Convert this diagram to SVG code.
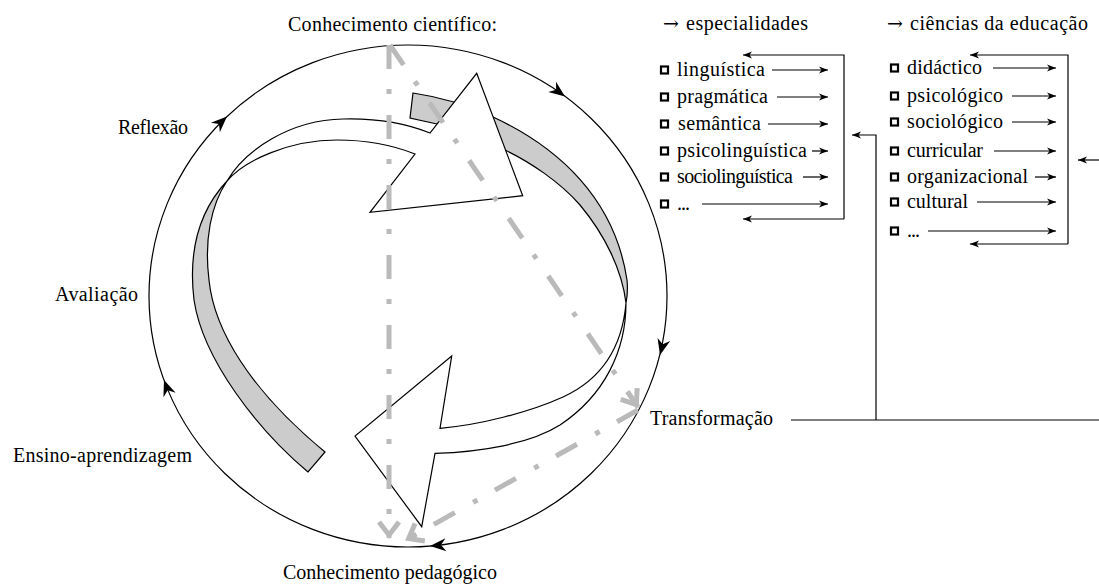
<svg xmlns="http://www.w3.org/2000/svg" width="1099" height="586" viewBox="0 0 1099 586">
<style>
text{font-family:"Liberation Serif","Times New Roman",serif;font-size:20px;fill:#000}
.arw{font-family:"DejaVu Serif","DejaVu Sans",serif;font-size:19px}
.ln{fill:none;stroke:#000;stroke-width:1.2}
.ar{fill:none;stroke:#000;stroke-width:1.2;marker-end:url(#blk)}
.dd{fill:none;stroke:#bababa;stroke-width:5;stroke-dasharray:24 20 5 21;marker-end:url(#gch)}
.rib{stroke:#000;stroke-width:1.2;stroke-linejoin:miter}
.g{fill:#cccccc}
.w{fill:#ffffff}
.bul{fill:#fff;stroke:#000;stroke-width:2.2}
</style>
<defs>
<marker id="blk" viewBox="-10 -5 11 10" refX="0" refY="0" markerWidth="11" markerHeight="10" markerUnits="userSpaceOnUse" orient="auto"><path d="M0,0 L-9,-3.5 L-6.5,0 L-9,3.5 Z" fill="#000"/></marker>
<marker id="gch" viewBox="-20 -14 26 28" refX="0" refY="0" markerWidth="26" markerHeight="28" markerUnits="userSpaceOnUse" orient="auto" overflow="visible"><path d="M-16,-10 L-3,0 L-16,10" fill="none" stroke="#bababa" stroke-width="5"/></marker>
<path id="ah" d="M0,0 L-16,-6.5 L-11,0 L-16,6.5 Z" fill="#000"/>
</defs>

<g id="cycle">
<ellipse cx="408" cy="296" rx="259" ry="251" class="ln"/>
<use href="#ah" transform="translate(565,96.4) rotate(36.5)"/>
<use href="#ah" transform="translate(660,355) rotate(104)"/>
<use href="#ah" transform="translate(430,546) rotate(175.3)"/>
<use href="#ah" transform="translate(164,380) rotate(-110.2)"/>
<use href="#ah" transform="translate(227,116.5) rotate(-43.4)"/>
</g>

<g id="ribbon-2-back">
<path class="rib g" d="M413,93 C440,97 470,106 493,117 C560,148 615,200 627,280 C628,290 627,298 626,303 C622,270 605,235 580,205 C560,182 530,162 505,150 C480,138 460,128 437,124 L410,118 Z"/>
</g>
<g id="ribbon-1">
<path class="rib g" d="M308,472 C258,430 203,360 194,300 C188,250 200,210 227,181 C211,205 204,240 209,280 C214,330 250,390 325,452 Z"/>
<path class="rib w" d="M227,181 C245,150 290,120 343,119 C380,118 410,125 430,133 L476.7,73.3 L522.7,195.7 L370,212.3 L415,154 C395,146 370,140 337,140 C290,140 245,160 227,181 Z"/>
</g>
<g id="ribbon-2-front">
<path class="rib w" d="M626,303 C626,350 605,395 560,425 C530,444 480,452 435,453.3 L421.7,526.7 L355,436 L451.7,356 L440,428.3 C480,425 530,412 563,397 C600,380 622,350 626,303 Z"/>
</g>

<g id="connectors">
<path class="dd" d="M389,45 V538"/>
<path class="dd" d="M390,45 L638,407"/>
<path class="dd" d="M638,410 L406,540"/>
<path class="ln" d="M791,420 H1099"/>
<path class="ar" d="M876,420 V135 H852"/>
<path class="ar" d="M1099,160 H1078"/>
<path class="ar" d="M844,219 V55 H743"/>
<path class="ar" d="M844,219 H743"/>
<path class="ar" d="M1068,244 V55 H970"/>
<path class="ar" d="M1068,244 H970"/>
<path class="ar" d="M772,70 H828"/>
<path class="ar" d="M777,97 H828"/>
<path class="ar" d="M768,124 H828"/>
<path class="ar" d="M812,151 H828"/>
<path class="ar" d="M803,177 H828"/>
<path class="ar" d="M702,204 H828"/>
<path class="ar" d="M993,68 H1056"/>
<path class="ar" d="M1012,96 H1056"/>
<path class="ar" d="M1012,122 H1056"/>
<path class="ar" d="M994,151 H1056"/>
<path class="ar" d="M1035,177 H1056"/>
<path class="ar" d="M977,202 H1056"/>
<path class="ar" d="M928,231 H1056"/>
</g>

<g id="labels">
<text x="288" y="31" textLength="209">Conhecimento científico:</text>
<text x="118" y="134" textLength="70">Reflexão</text>
<text x="55" y="301" textLength="83">Avaliação</text>
<text x="13" y="462" textLength="179">Ensino-aprendizagem</text>
<text x="650" y="425" textLength="123">Transformação</text>
<text x="283" y="579" textLength="214">Conhecimento pedagógico</text>
</g>

<g id="especialidades">
<text x="663" y="30"><tspan class="arw">→</tspan><tspan x="686" textLength="122">especialidades</tspan></text>
<rect class="bul" x="661" y="66.5" width="7" height="7"/>
<rect class="bul" x="661" y="93.5" width="7" height="7"/>
<rect class="bul" x="661" y="120.5" width="7" height="7"/>
<rect class="bul" x="661" y="147.5" width="7" height="7"/>
<rect class="bul" x="661" y="173.5" width="7" height="7"/>
<rect class="bul" x="661" y="200.5" width="7" height="7"/>
<text x="677" y="76" textLength="88">linguística</text>
<text x="677" y="103" textLength="91">pragmática</text>
<text x="678" y="130" textLength="83">semântica</text>
<text x="677" y="157" textLength="130">psicolinguística</text>
<text x="677" y="183" textLength="116">sociolinguística</text>
<text x="677" y="210" textLength="13">...</text>
</g>

<g id="ciencias">
<text x="887" y="30"><tspan class="arw">→</tspan><tspan x="910" textLength="178">ciências da educação</tspan></text>
<rect class="bul" x="891" y="64.5" width="7" height="7"/>
<rect class="bul" x="891" y="92.5" width="7" height="7"/>
<rect class="bul" x="891" y="118.5" width="7" height="7"/>
<rect class="bul" x="891" y="147.5" width="7" height="7"/>
<rect class="bul" x="891" y="173.5" width="7" height="7"/>
<rect class="bul" x="891" y="198.5" width="7" height="7"/>
<rect class="bul" x="891" y="227.5" width="7" height="7"/>
<text x="907" y="74" textLength="75">didáctico</text>
<text x="907" y="102" textLength="96">psicológico</text>
<text x="907" y="128" textLength="96">sociológico</text>
<text x="907" y="157" textLength="76">curricular</text>
<text x="907" y="183" textLength="121">organizacional</text>
<text x="907" y="208" textLength="61">cultural</text>
<text x="907" y="237" textLength="13">...</text>
</g>
</svg>
